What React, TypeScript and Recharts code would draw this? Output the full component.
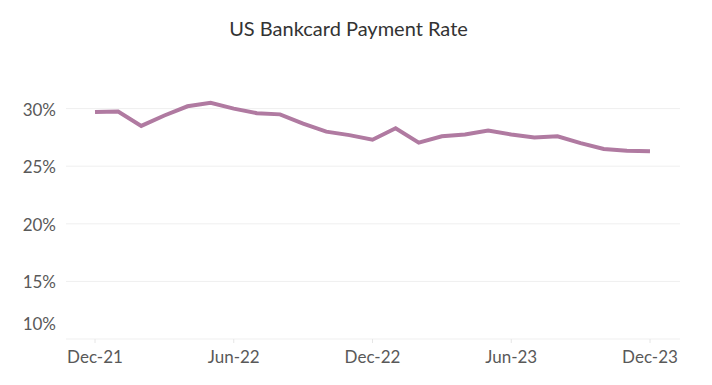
import React from 'react';
import { LineChart, Line, XAxis, YAxis, CartesianGrid } from 'recharts';

const months = [
  'Dec-21', 'Jan-22', 'Feb-22', 'Mar-22', 'Apr-22', 'May-22', 'Jun-22',
  'Jul-22', 'Aug-22', 'Sep-22', 'Oct-22', 'Nov-22', 'Dec-22',
  'Jan-23', 'Feb-23', 'Mar-23', 'Apr-23', 'May-23', 'Jun-23',
  'Jul-23', 'Aug-23', 'Sep-23', 'Oct-23', 'Nov-23', 'Dec-23'
];

const paymentRate = [
  29.7, 29.75, 28.5, 29.4, 30.2, 30.5, 30.0,
  29.6, 29.5, 28.7, 28.0, 27.7, 27.3,
  28.3, 27.05, 27.6, 27.75, 28.1, 27.75,
  27.5, 27.6, 27.0, 26.5, 26.35, 26.3
];

const yTicks = [10, 15, 20, 25, 30];
const gridValues = [15, 20, 25, 30];

const data = months.map((month, i) => ({ month, rate: paymentRate[i] }));

const FONT = 'Lato, "Open Sans", sans-serif';

const YTick = (props: any) => {
  const { x, y, payload } = props;
  // Tableau nudges the bottom label up inside the axis
  const dy = payload.value === 10 ? -16 : 0;
  return (
    <text x={x - 2} y={y + dy} dy={7} textAnchor="end" fill="#595959" fontSize={17} fontFamily={FONT}>
      {payload.value}%
    </text>
  );
};

const App = () => {
  return (
    <div style={{ position: 'absolute', left: 0, top: 0, width: 712, height: 385, background: '#fff' }}>
      <div
        style={{
          position: 'absolute',
          top: 16,
          left: 0,
          width: 697,
          textAlign: 'center',
          fontFamily: FONT,
          fontSize: 20,
          color: '#333'
        }}
      >
        US Bankcard Payment Rate
      </div>
      <LineChart
        width={712}
        height={385}
        data={data}
        margin={{ top: 51, right: 32, left: 6, bottom: 16 }}
      >
        <CartesianGrid vertical={false} stroke="#efefef" horizontalValues={gridValues} />
        <XAxis
          dataKey="month"
          interval={5}
          padding={{ left: 29, right: 30 }}
          axisLine={{ stroke: '#efefef' }}
          tickLine={{ stroke: '#e6e6e6' }}
          tickSize={4}
          height={30}
          tick={{ fill: '#595959', fontSize: 17, fontFamily: FONT }}
          tickMargin={8}
        />
        <YAxis
          domain={[10, 35]}
          ticks={yTicks}
          width={60}
          axisLine={false}
          tickLine={false}
          tick={<YTick />}
        />
        <Line
          type="linear"
          dataKey="rate"
          stroke="#b07aa1"
          strokeWidth={4}
          dot={false}
          isAnimationActive={false}
        />
      </LineChart>
    </div>
  );
};

export default App;
